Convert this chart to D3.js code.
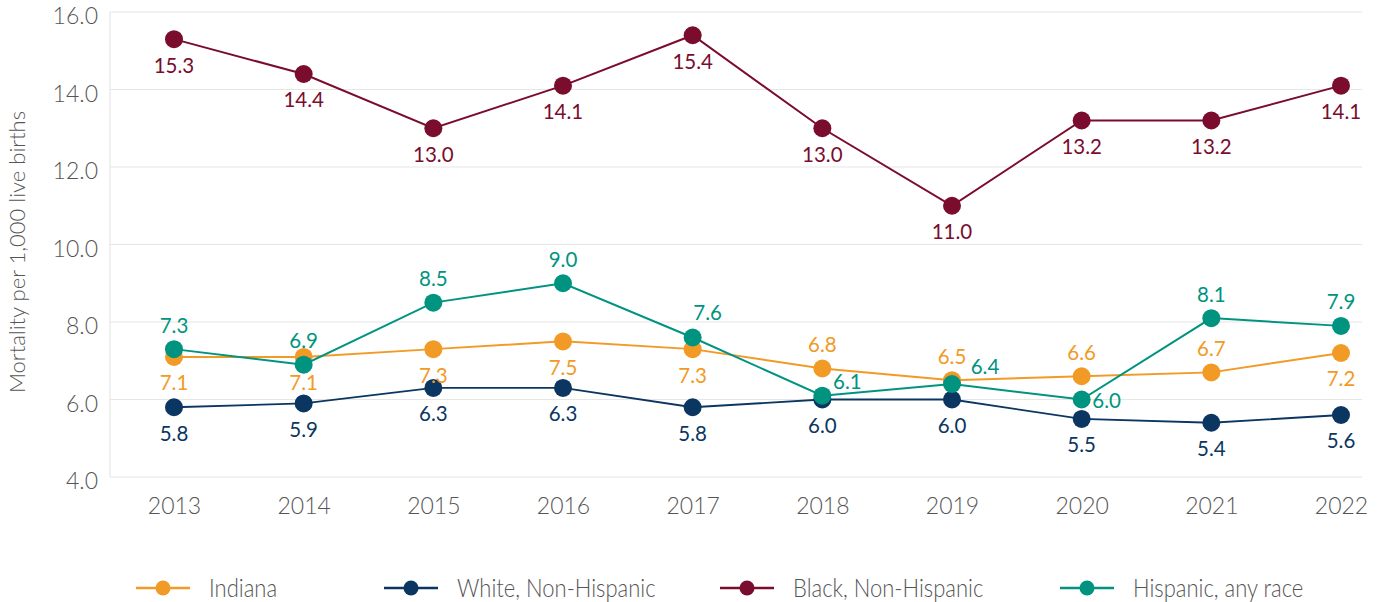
<!DOCTYPE html>
<html>
<head>
<meta charset="utf-8">
<script src="https://cdn.jsdelivr.net/npm/d3@7"></script>
<style>
  html, body { margin: 0; padding: 0; background: #fff; }
  svg { display: block; }
</style>
</head>
<body>
<svg id="chart" width="1385" height="602"></svg>
<script>
const years = ["2013","2014","2015","2016","2017","2018","2019","2020","2021","2022"];
const yTicks = [4, 6, 8, 10, 12, 14, 16];
const yTitle = "Mortality per 1,000 live births";

const seriesNames = ["Indiana", "White, Non-Hispanic", "Black, Non-Hispanic", "Hispanic, any race"];
const indiana   = [7.1, 7.1, 7.3, 7.5, 7.3, 6.8, 6.5, 6.6, 6.7, 7.2];
const white     = [5.8, 5.9, 6.3, 6.3, 5.8, 6.0, 6.0, 5.5, 5.4, 5.6];
const black     = [15.3, 14.4, 13.0, 14.1, 15.4, 13.0, 11.0, 13.2, 13.2, 14.1];
const hispanic  = [7.3, 6.9, 8.5, 9.0, 7.6, 6.1, 6.4, 6.0, 8.1, 7.9];

// label placement per point
const indianaPos  = ["b","b","b","b","b","a","a","a","a","b"];
const whitePos    = ["b","b","b","b","b","b","b","b","b","b"];
const blackPos    = ["b","b","b","b","b","b","b","b","b","b"];
const hispanicPos = ["a","a","a","a","ar","r","r2","r0","a","a"];

const colors = ["#f29a26", "#0b3661", "#7a0c2e", "#009480"];

const svg = d3.select("#chart");
const plotLeft = 110, plotRight = 1362, plotTop = 12, plotBottom = 477;

const x = d3.scalePoint().domain(years).range([174, 1341]);
const y = d3.scaleLinear().domain([4, 16]).range([plotBottom, plotTop]);

// gridlines
svg.append("g").selectAll("line").data(yTicks).join("line")
  .attr("x1", plotLeft).attr("x2", plotRight)
  .attr("y1", d => y(d)).attr("y2", d => y(d))
  .attr("stroke", "#e6e6e6").attr("stroke-width", 1.2);
svg.append("line")
  .attr("x1", plotLeft).attr("x2", plotLeft)
  .attr("y1", plotTop).attr("y2", plotBottom)
  .attr("stroke", "#e6e6e6").attr("stroke-width", 1.2);

// y axis
const yAxis = d3.axisLeft(y).tickValues(yTicks).tickFormat(d3.format(".1f")).tickSize(0).tickPadding(12);
const gy = svg.append("g").attr("transform", `translate(${plotLeft},0)`).call(yAxis);
gy.select(".domain").remove();
gy.selectAll("text")
  .attr("font-family", "Lato, 'Open Sans', sans-serif")
  .attr("font-weight", 300)
  .attr("font-size", 23)
  .attr("fill", "#555")
  .attr("dy", "0.5em");

// x axis
const xAxis = d3.axisBottom(x).tickSize(0).tickPadding(21);
const gx = svg.append("g").attr("transform", `translate(0,${plotBottom})`).call(xAxis);
gx.select(".domain").remove();
gx.selectAll("text")
  .attr("font-family", "Lato, 'Open Sans', sans-serif")
  .attr("font-weight", 300)
  .attr("font-size", 23)
  .attr("fill", "#555");

// y title
svg.append("text")
  .attr("transform", "translate(25,252) rotate(-90)")
  .attr("text-anchor", "middle")
  .attr("font-family", "Lato, 'Open Sans', sans-serif")
  .attr("font-weight", 300)
  .attr("font-size", 22)
  .attr("fill", "#555")
  .text(yTitle);

const allValues = [indiana, white, black, hispanic];
const allPos = [indianaPos, whitePos, blackPos, hispanicPos];
const widths = [2, 1.8, 2, 2];

const line = d3.line().x((d, i) => x(years[i])).y(d => y(d));

const offsets = {
  b:  [0, 26],
  a:  [0, -24],
  ar: [15, -25],
  r:  [25, -14],
  r2: [33, -17],
  r0: [25, 1]
};

allValues.forEach((vals, si) => {
  const g = svg.append("g");
  g.append("path").datum(vals)
    .attr("d", line)
    .attr("fill", "none")
    .attr("stroke", colors[si])
    .attr("stroke-width", widths[si]);
  g.selectAll("circle").data(vals).join("circle")
    .attr("cx", (d, i) => x(years[i]))
    .attr("cy", d => y(d))
    .attr("r", 9)
    .attr("fill", colors[si]);
});

allValues.forEach((vals, si) => {
  svg.append("g").selectAll("text").data(vals).join("text")
    .attr("x", (d, i) => x(years[i]) + offsets[allPos[si][i]][0])
    .attr("y", (d, i) => y(d) + offsets[allPos[si][i]][1])
    .attr("text-anchor", "middle")
    .attr("dy", "0.36em")
    .attr("font-family", "Lato, 'Open Sans', sans-serif")
    .attr("font-weight", 400)
    .attr("font-size", 20.5)
    .attr("fill", colors[si])
    .text(d => d3.format(".1f")(d));
});

// legend
const legendX = [136, 384, 720, 1060];
const legendY = 588;
const lg = svg.append("g");
seriesNames.forEach((name, i) => {
  const gx0 = legendX[i];
  lg.append("line")
    .attr("x1", gx0).attr("x2", gx0 + 54)
    .attr("y1", legendY).attr("y2", legendY)
    .attr("stroke", colors[i]).attr("stroke-width", 2.5);
  lg.append("circle")
    .attr("cx", gx0 + 27).attr("cy", legendY).attr("r", 7.5)
    .attr("fill", colors[i]);
  lg.append("text")
    .attr("transform", `translate(${gx0 + 73},${legendY}) scale(0.88,1)`)
    .attr("dy", "0.36em")
    .attr("font-family", "Lato, sans-serif")
    .attr("font-weight", 300)
    .attr("font-size", 25)
    .attr("fill", "#555")
    .text(name);
});
</script>
</body>
</html>
